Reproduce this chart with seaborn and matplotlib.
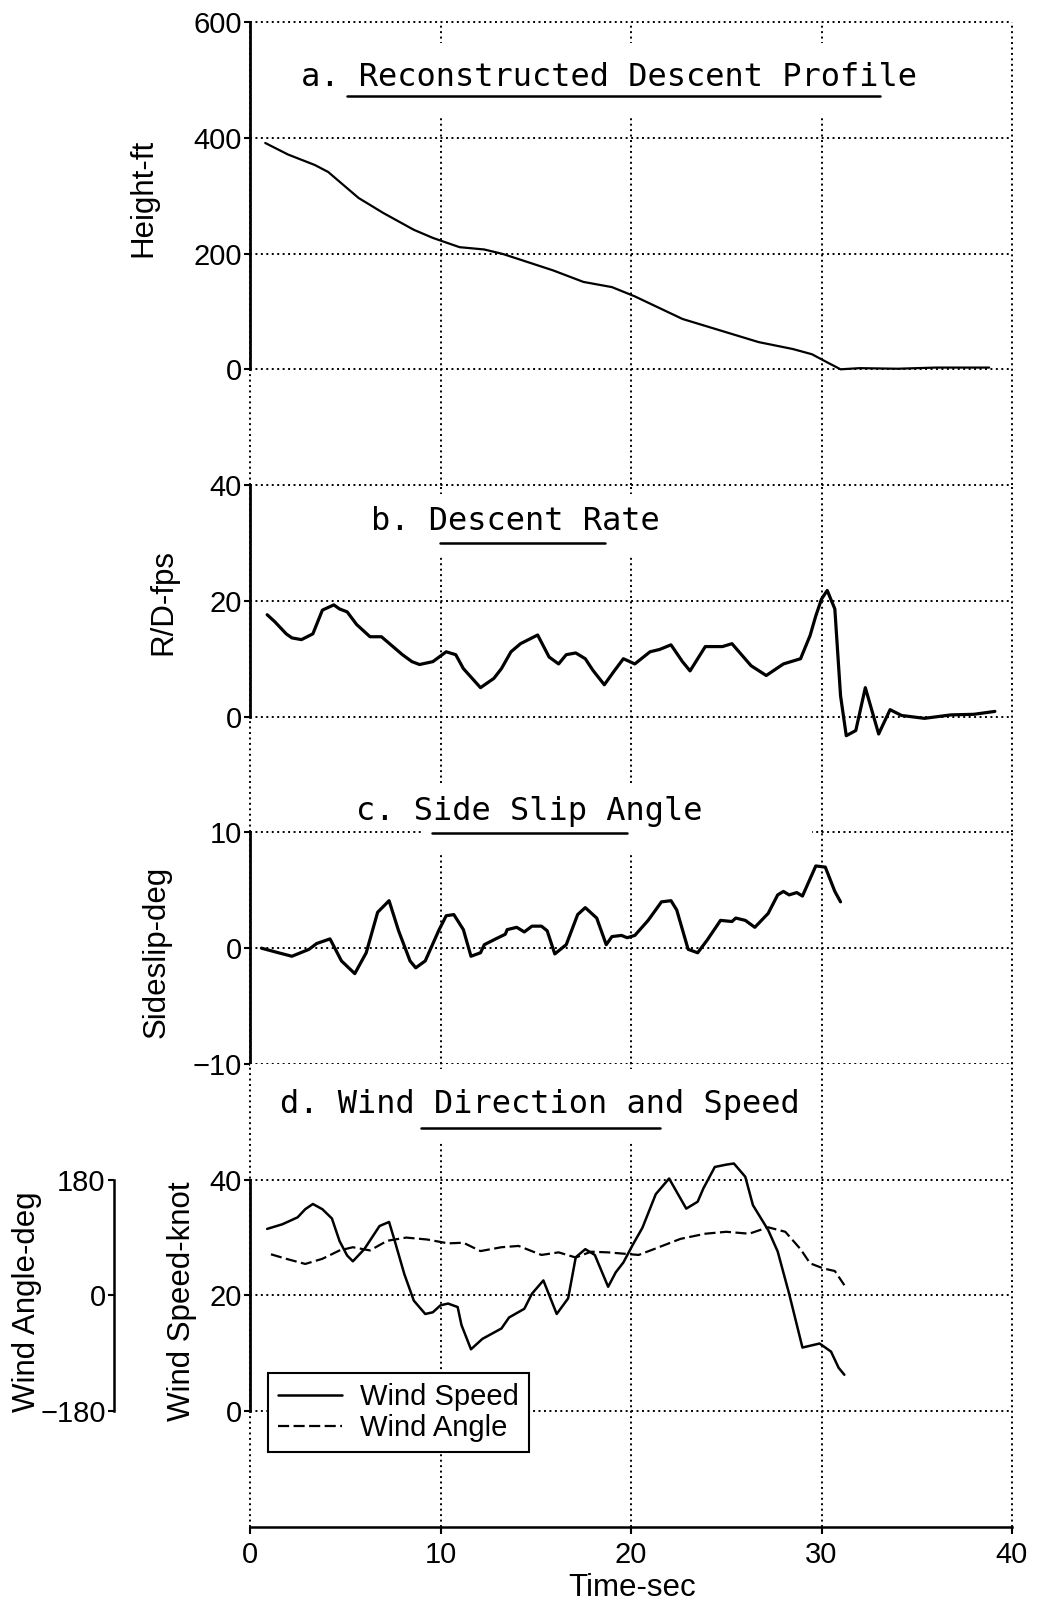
"""
Recreation of a scanned four-panel descent time history:
height, descent rate, sideslip and wind (speed + direction).
"""

import matplotlib
matplotlib.use("Agg")
import matplotlib.pyplot as plt
from matplotlib.lines import Line2D
from matplotlib.patches import Rectangle
import seaborn as sns

# ---------------------------------------------------------------------------
# CONFIG - figure is laid out in pixels (1045 x 1603 at dpi 100)
# ---------------------------------------------------------------------------
FIG_W, FIG_H = 1045, 1603
AX_LEFT_PX, AX_RIGHT_PX = 250, 1012
AX_TOP_PX, AX_BOTTOM_PX = 22, 1527
AX_W_PX = AX_RIGHT_PX - AX_LEFT_PX
AX_D_H_PX = 463

X_TICKS = [0, 10, 20, 30, 40]
TITLE_FAMILY = "DejaVu Sans Mono"
TICK_SIZE = 21
LABEL_SIZE = 22.5

# --- a. height (ft) -------------------------------------------------------
t_height = [0.8, 2.0, 3.4, 4.1, 5.7, 7.0, 8.6, 9.6, 11.0, 12.3, 13.3, 15.9,
            17.5, 19.0, 20.2, 22.7, 25.0, 26.7, 28.5, 29.5, 30.3, 31.0,
            32.0, 34.0, 36.0, 38.8]
height_ft = [391, 371, 353, 341, 296, 270, 241, 227, 211, 207, 199, 171,
             151, 142, 126, 87, 64, 47, 35, 26, 12, 0,
             2, 1, 3, 3]

# --- b. descent rate (fps) ------------------------------------------------
t_rd = [0.9, 1.3, 1.9, 2.2, 2.7, 3.3, 3.8, 4.4, 4.7, 5.1, 5.6, 6.3, 6.9,
        8.0, 8.5, 8.9, 9.6, 10.3, 10.8, 11.2, 12.1, 12.8, 13.2, 13.7, 14.2,
        15.1, 15.7, 16.2, 16.6, 17.1, 17.6, 18.0, 18.6, 19.1, 19.6, 20.2,
        21.0, 21.5, 22.1, 22.7, 23.1, 23.9, 24.8, 25.3, 26.3, 27.1, 28.0,
        28.9, 29.4, 29.7, 30.0, 30.3, 30.7, 31.0, 31.3, 31.8, 32.3, 33.0,
        33.6, 34.2, 35.4, 36.8, 38.0, 39.1]
rd_fps = [17.6, 16.4, 14.3, 13.6, 13.3, 14.3, 18.4, 19.3, 18.6, 18.1, 15.9,
          13.8, 13.8, 10.7, 9.5, 9.0, 9.5, 11.2, 10.7, 8.3, 5.0, 6.6, 8.3,
          11.2, 12.6, 14.1, 10.3, 9.1, 10.7, 11.0, 10.0, 8.0, 5.5, 7.8, 10.0,
          9.1, 11.2, 11.6, 12.4, 9.5, 7.9, 12.1, 12.1, 12.6, 8.8, 7.1, 9.1,
          10.0, 14.0, 17.4, 20.3, 21.8, 18.6, 3.6, -3.3, -2.4, 5.0, -3.0,
          1.2, 0.2, -0.3, 0.3, 0.4, 0.9]

# --- c. sideslip (deg) ----------------------------------------------------
t_slip = [0.6, 1.5, 2.2, 3.1, 3.5, 4.2, 4.8, 5.5, 6.1, 6.7, 7.3, 7.8, 8.4,
          8.7, 9.2, 9.9, 10.3, 10.7, 11.2, 11.6, 12.1, 12.3, 12.9, 13.4,
          13.5, 14.0, 14.4, 14.8, 15.3, 15.6, 16.0, 16.6, 17.2, 17.6, 18.2,
          18.7, 19.0, 19.5, 19.8, 20.2, 20.9, 21.6, 22.1, 22.4, 23.0, 23.5,
          24.0, 24.7, 25.3, 25.5, 26.0, 26.5, 27.2, 27.7, 28.0, 28.3, 28.7,
          29.0, 29.7, 30.2, 30.7, 31.0]
slip_deg = [0.0, -0.4, -0.7, -0.1, 0.4, 0.8, -1.1, -2.2, -0.4, 3.1, 4.1,
            1.5, -1.1, -1.7, -1.1, 1.5, 2.8, 2.9, 1.6, -0.7, -0.4, 0.3, 0.8,
            1.2, 1.6, 1.8, 1.4, 1.9, 1.9, 1.5, -0.5, 0.3, 2.9, 3.5, 2.6, 0.3,
            1.0, 1.1, 0.9, 1.1, 2.4, 4.0, 4.1, 3.3, -0.1, -0.4, 0.7, 2.4, 2.3,
            2.6, 2.4, 1.8, 3.0, 4.6, 4.9, 4.6, 4.8, 4.5, 7.1, 7.0, 4.9, 4.0]

# --- d. wind speed (knot) and wind angle (deg) ----------------------------
t_wspd = [0.9, 1.7, 2.5, 2.9, 3.3, 3.8, 4.3, 4.7, 5.1, 5.4, 6.0, 6.8, 7.3,
          7.6, 8.1, 8.6, 9.2, 9.6, 10.0, 10.4, 10.9, 11.1, 11.6, 12.2, 13.2,
          13.6, 14.4, 14.8, 15.4, 16.1, 16.7, 17.1, 17.6, 18.1, 18.8, 19.2,
          19.6, 20.1, 20.6, 21.3, 22.0, 22.9, 23.5, 23.8, 24.4, 25.0, 25.4,
          26.0, 26.4, 27.2, 27.7, 28.3, 29.0, 29.9, 30.5, 30.9, 31.2]
wspd_knot = [31.5, 32.3, 33.5, 34.9, 35.8, 34.9, 33.3, 29.4, 26.9, 25.9,
             28.0, 32.0, 32.7, 29.4, 23.7, 19.1, 16.8, 17.1, 18.3, 18.6,
             18.0, 14.9, 10.7, 12.5, 14.3, 16.2, 17.7, 20.3, 22.6, 16.8,
             19.5, 26.6, 28.0, 27.0, 21.5, 24.0, 25.7, 28.8, 31.7, 37.5,
             40.2, 35.0, 36.2, 38.5, 42.2, 42.6, 42.8, 40.5, 35.6, 31.3,
             27.6, 20.3, 11.0, 11.7, 10.3, 7.5, 6.3]

t_wang = [1.1, 1.9, 2.9, 3.8, 4.7, 5.4, 6.3, 7.2, 8.2, 9.3, 10.4, 11.2, 12.1,
          13.2, 14.1, 15.3, 16.2, 17.1, 17.9, 18.8, 20.4, 21.2, 22.6, 23.9,
          25.0, 26.2, 27.2, 28.1, 28.9, 29.4, 30.1, 30.7, 31.2]
wang_deg = [64, 57, 49, 57, 70, 75, 70, 85, 90, 87, 81, 82, 69, 75, 77, 63,
            67, 59, 68, 67, 63, 72, 88, 96, 99, 96, 106, 99, 72, 50, 42, 38,
            16]

sns.set_style("white", rc={"axes.edgecolor": "black", "text.color": "black",
                           "axes.labelcolor": "black", "xtick.color": "black",
                           "ytick.color": "black"})
plt.rcParams["font.family"] = ["Liberation Sans", "DejaVu Sans"]

LINE_KW = dict(color="black", sort=False, estimator=None, zorder=3,
               solid_joinstyle="round", solid_capstyle="round")


def fx(x):
    return x / FIG_W


def fy(y):
    return 1 - y / FIG_H


def label_x(px):
    return (px - AX_LEFT_PX) / AX_W_PX


def style_panel(ax, ylim, yticks, ylabel, label_xy):
    ax.set_xlim(0, 40)
    ax.set_xticks(X_TICKS)
    ax.set_ylim(*ylim)
    ax.set_yticks(yticks)
    ax.set_axisbelow(True)
    ax.grid(True, color="black", linestyle=(0, (1, 1.8)), linewidth=1.4)
    for gl in ax.get_xgridlines() + ax.get_ygridlines():
        gl.set_clip_on(False)
    for side in ("top", "right", "bottom"):
        ax.spines[side].set_visible(False)
    ax.spines["left"].set_linewidth(2.0)
    ax.spines["left"].set_bounds(yticks[0], yticks[-1])
    ax.tick_params(axis="y", left=True, direction="out", length=4, width=1.5,
                   pad=2, labelsize=TICK_SIZE)
    ax.tick_params(axis="x", length=0)
    ax.set_ylabel(ylabel, fontsize=LABEL_SIZE, va="center", ha="center")
    ax.yaxis.set_label_coords(*label_xy)


def add_title(fig, ax, text, center, box, underline):
    """Panel caption: white box hiding the grid, text, partial underline."""
    x0, y0, x1, y1 = box
    ax.add_patch(Rectangle((fx(x0), fy(y1)), fx(x1) - fx(x0), fy(y0) - fy(y1),
                           transform=fig.transFigure, facecolor="white",
                           edgecolor="none", zorder=2.6, clip_on=False))
    ax.text(fx(center[0]), fy(center[1]), text, transform=fig.transFigure,
            ha="center", va="center", fontsize=23, family=TITLE_FAMILY,
            zorder=4)
    ux0, ux1, uy = underline
    ax.add_artist(Line2D([fx(ux0), fx(ux1)], [fy(uy), fy(uy)],
                         transform=fig.transFigure, color="black", lw=1.8,
                         zorder=4, clip_on=False))


def main():
    fig, axes = plt.subplots(
        4, 1, figsize=(FIG_W / 100, FIG_H / 100), sharex=True,
        gridspec_kw={"height_ratios": [4, 3, 2, 4], "hspace": 0})
    fig.subplots_adjust(left=fx(AX_LEFT_PX), right=fx(AX_RIGHT_PX),
                        top=fy(AX_TOP_PX), bottom=fy(AX_BOTTOM_PX))
    ax_a, ax_b, ax_c, ax_d = axes

    # a. height
    sns.lineplot(x=t_height, y=height_ft, ax=ax_a, lw=1.6, **LINE_KW)
    style_panel(ax_a, (-200, 600), [0, 200, 400, 600], "Height-ft",
                (label_x(143), 0.62))
    add_title(fig, ax_a, "a. Reconstructed Descent Profile", (609, 78),
              (290, 43, 930, 117), (347, 880, 96))

    # b. descent rate
    sns.lineplot(x=t_rd, y=rd_fps, ax=ax_b, lw=2.3, **LINE_KW)
    style_panel(ax_b, (-20, 40), [0, 20, 40], "R/D-fps",
                (label_x(163), 0.664))
    add_title(fig, ax_b, "b. Descent Rate", (515, 522),
              (355, 494, 680, 556), (440, 605, 543))

    # c. sideslip
    sns.lineplot(x=t_slip, y=slip_deg, ax=ax_c, lw=2.3, **LINE_KW)
    style_panel(ax_c, (-10, 10), [-10, 0, 10], "Sideslip-deg",
                (label_x(157), 0.483))
    add_title(fig, ax_c, "c. Side Slip Angle", (529, 811),
              (423, 785, 812, 852), (432, 627, 833))

    # d. wind speed and direction
    sns.lineplot(x=t_wspd, y=wspd_knot, ax=ax_d, lw=1.8, label="Wind Speed",
                 **LINE_KW)
    style_panel(ax_d, (-20, 60), [0, 20, 40], "Wind Speed-knot",
                (label_x(182), 0.488))
    add_title(fig, ax_d, "d. Wind Direction and Speed", (540, 1104),
              (270, 1069, 810, 1142), (421, 660, 1128))

    ax_d.spines["bottom"].set_visible(True)
    ax_d.spines["bottom"].set_linewidth(1.8)
    ax_d.spines["bottom"].set_bounds(0, 40)
    ax_d.tick_params(axis="x", bottom=True, direction="out", length=5,
                     width=1.5, pad=5, labelsize=TICK_SIZE)
    ax_d.set_xlabel("Time-sec", fontsize=LABEL_SIZE, va="center")
    ax_d.xaxis.set_label_coords(label_x(632), (AX_BOTTOM_PX - 1588) / AX_D_H_PX)

    # wind angle on a detached axis to the far left
    ax2 = ax_d.twinx()
    sns.lineplot(x=t_wang, y=wang_deg, ax=ax2, lw=1.6, linestyle=(0, (5, 2)),
                 label="Wind Angle", **LINE_KW)
    ax2.set_ylim(-360, 360)
    ax2.set_yticks([-180, 0, 180])
    for side in ("top", "right", "bottom"):
        ax2.spines[side].set_visible(False)
    ax2.spines["left"].set_visible(True)
    ax2.spines["left"].set_position(("axes", label_x(114)))
    ax2.spines["left"].set_bounds(-180, 180)
    ax2.spines["left"].set_linewidth(1.8)
    ax2.yaxis.tick_left()
    ax2.yaxis.set_label_position("left")
    ax2.tick_params(axis="y", left=True, right=False, direction="out",
                    length=4, width=1.5, pad=2, labelsize=TICK_SIZE)
    ax2.set_ylabel("Wind Angle-deg", fontsize=LABEL_SIZE, va="center",
                   ha="center")
    ax2.yaxis.set_label_coords(label_x(27), 0.486)

    handles, labels = [], []
    for ax in (ax_d, ax2):
        h, l = ax.get_legend_handles_labels()
        handles += h
        labels += l
        if ax.get_legend() is not None:
            ax.get_legend().remove()
    leg = ax2.legend(handles, labels, loc="lower left",
                     bbox_to_anchor=(label_x(268), 0.162), borderaxespad=0,
                     fontsize=21, frameon=True, fancybox=False, framealpha=1,
                     edgecolor="black", handlelength=2.2, handletextpad=0.6,
                     labelspacing=0.1, borderpad=0.35)
    leg.get_frame().set_linewidth(1.5)

    fig.savefig("out.png", dpi=100)
    plt.close(fig)


if __name__ == "__main__":
    main()
